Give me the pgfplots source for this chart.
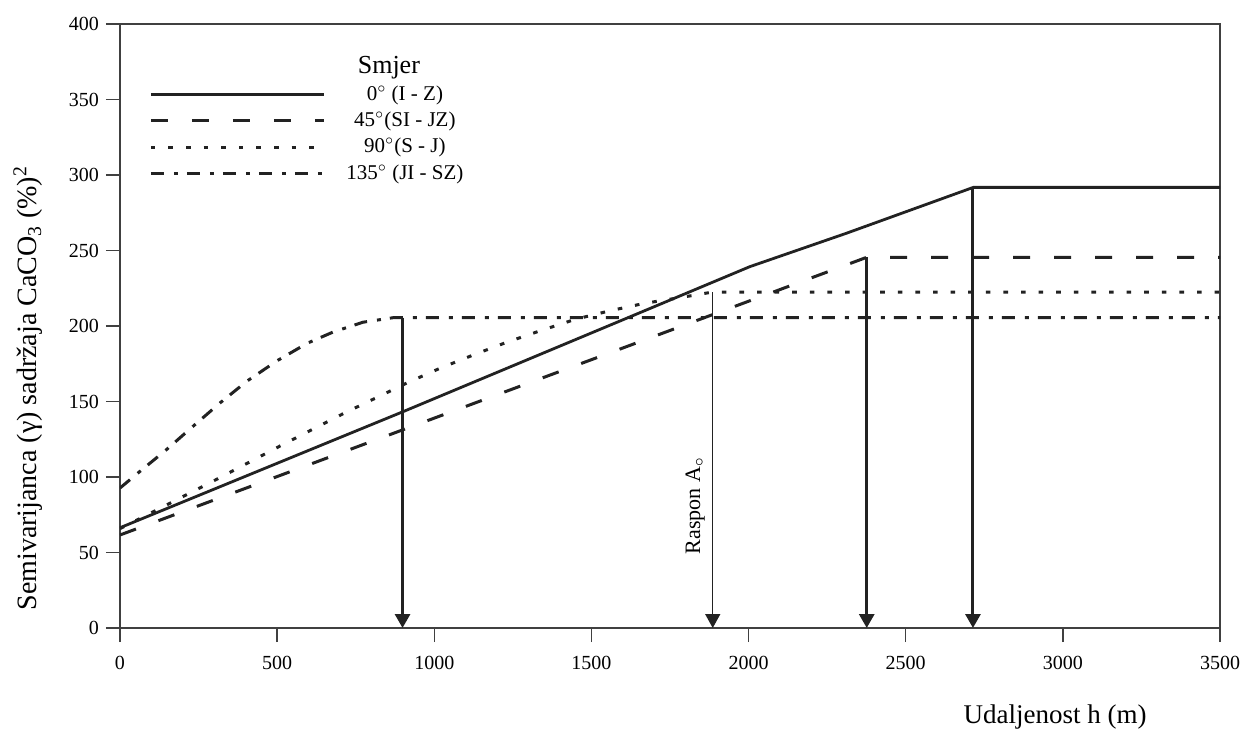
\documentclass[border=0pt]{standalone}
\usepackage{fontspec}
\setmainfont{Liberation Serif}
\usepackage{pgfplots}
\pgfplotsset{compat=1.18}
\usetikzlibrary{arrows.meta}
\definecolor{ink}{HTML}{222222}
\definecolor{frame}{HTML}{404040}

\begin{document}
\begin{tikzpicture}
\path[use as bounding box] (-60pt,-50.5pt) rectangle (562pt,314pt);
\begin{axis}[
    at={(0,0)}, anchor=south west,
    scale only axis, width=550pt, height=302pt,
    xmin=0, xmax=3500, ymin=0, ymax=400,
    xtick={0,500,...,3500}, ytick={0,50,...,400},
    tick pos=left, tick align=outside, major tick length=7pt,
    axis line style={frame, line width=0.7pt},
    every tick/.style={frame, line width=0.7pt},
    /pgf/number format/assume math mode=true,
    /pgf/number format/1000 sep={},
    tick label style={font=\fontsize{10}{12}\selectfont},
    xticklabel style={yshift=-3.5pt},
    xlabel={Udaljenost h (m)},
    xlabel style={font=\fontsize{13.5}{15}\selectfont, at={(axis description cs:0.85,-0.148)}, anchor=center},
    ylabel={Semivarijanca (γ) sadržaja CaCO\textsubscript{3} (\%)\textsuperscript{2}},
    ylabel style={font=\fontsize{14}{16}\selectfont, at={(axis description cs:-0.0836,0.397)}, anchor=center, rotate=0},
    legend image code/.code={\draw[#1] (0pt,0pt) -- (86.5pt,0pt);},
    legend cell align=center,
    legend style={draw=none, fill=none, at={(axis description cs:0.0263,0.948)}, anchor=north west,
        font=\fontsize{10.5}{12}\selectfont, row sep=0.65pt, column sep=9.5pt, inner sep=0pt,
        nodes={inner sep=1pt, text height=0.8em, text depth=0.25em}},
]
\addlegendimage{empty legend}
\addlegendentry{\fontsize{13}{15}\selectfont Smjer\rule[-8pt]{0pt}{1pt}\hspace*{16pt}}

% 0 deg (I - Z)
\addplot[ink, line width=1.4pt] coordinates {
    (0,66.4) (901,143.3) (1700,212.8) (2004,239.3) (2311,261.4) (2715,291.8) (3500,291.8)};
\addlegendentry{0$^{\circ}$ (I - Z)}

% 45 deg (SI - JZ)
\addplot[ink, line width=1.5pt, dash pattern=on 8.5pt off 12pt] coordinates {
    (0,61.6) (2376,245.5) (3500,245.5)};
\addlegendentry{45$^{\circ}$(SI - JZ)}

% 90 deg (S - J)
\addplot[ink, line width=1.5pt, dash pattern=on 2.3pt off 6.5pt] coordinates {
    (0,65.8) (106,77) (308,98.5) (509,120.5) (708,141.7) (915,162.5) (1018,172)
    (1124,180.8) (1230,189.2) (1338,196.9) (1448,204.4) (1557,210) (1668,215)
    (1779,218.7) (1886,222.5) (3500,222.5)};
\addlegendentry{90$^{\circ}$(S - J)}

% 135 deg (JI - SZ)
\addplot[ink, line width=1.5pt, dash pattern=on 6.5pt off 5pt on 2pt off 4.5pt] coordinates {
    (0,92.7) (57,102.6) (150,118.5) (232,133.5) (318,149) (404,163.5) (500,177)
    (595,188.5) (678,196) (773,202.5) (869,205.5) (899,205.6) (3500,205.6)};
\addlegendentry{135$^{\circ}$ (JI - SZ)}

% ranges
\addplot[forget plot, ink, line width=1.5pt, -{Triangle[width=7.5pt,length=7pt]}] coordinates {(899,205.6) (899,0)};
\addplot[forget plot, ink, line width=0.75pt, -{Triangle[width=7.5pt,length=7pt]}] coordinates {(1886,222.5) (1886,0)};
\addplot[forget plot, ink, line width=1.5pt, -{Triangle[width=7.5pt,length=7pt]}] coordinates {(2376,245.5) (2376,0)};
\addplot[forget plot, ink, line width=1.5pt, -{Triangle[width=7.5pt,length=7pt]}] coordinates {(2714,291.8) (2714,0)};

\node[rotate=90, font=\fontsize{11}{12}\selectfont] at (axis cs:1830,81) {Raspon A$_{\circ}$};
\end{axis}
\end{tikzpicture}
\end{document}
